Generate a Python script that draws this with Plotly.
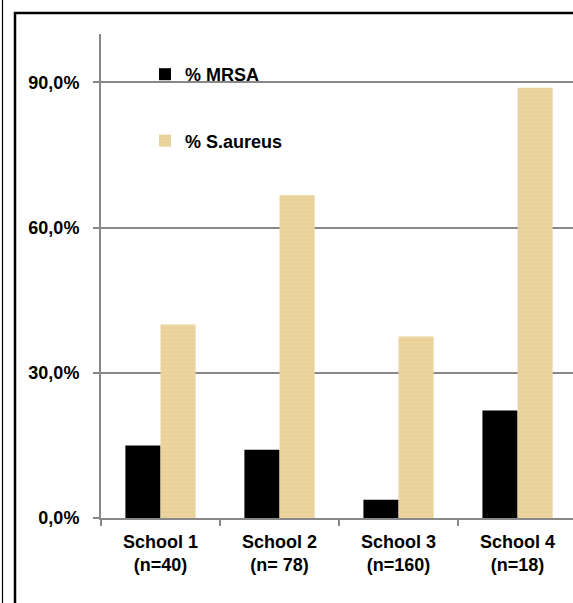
import plotly.graph_objects as go

categories = ["School 1<br>(n=40)", "School 2<br>(n= 78)", "School 3<br>(n=160)", "School 4<br>(n=18)"]
mrsa = [15.0, 14.1, 3.75, 22.2]
saureus = [40.0, 66.7, 37.5, 88.9]
y_ticks = [0, 30, 60, 90]
y_ticktext = [f"{v:.1f}".replace(".", ",") + "%" for v in y_ticks]

W, H = 573, 603
L, R, T, B = 101, 0, 34, 85
pw = W - L - R
ph = H - T - B

def px_x(px):
    return (px - L) / pw

def px_y(py):
    return (H - B - py) / ph

FAM = "Liberation Sans, Arial, sans-serif"

fig = go.Figure()
fig.add_trace(go.Bar(
    x=categories, y=mrsa, name="% MRSA",
    marker=dict(color="#000000", line=dict(width=0)),
    legendgroup="a",
))
fig.add_trace(go.Bar(
    x=categories, y=saureus, name="% S.aureus",
    marker=dict(color="#E9D199", line=dict(width=0),
                pattern=dict(shape="-", size=4, solidity=0.25, fgcolor="#DBBF82", bgcolor="#ECD5A0")),
    legendgroup="b",
))

fig.update_layout(
    width=W, height=H,
    margin=dict(l=L, r=R, t=T, b=B),
    paper_bgcolor="white", plot_bgcolor="white",
    barmode="group", bargap=0.41, bargroupgap=0,
    showlegend=True,
    legend=dict(x=px_x(145), y=px_y(56), xanchor="left", yanchor="top",
                font=dict(family=FAM, size=18, color="#000000", weight="bold"),
                tracegroupgap=40, bgcolor="rgba(0,0,0,0)", itemwidth=30),
    xaxis=dict(
        range=[-0.5, 3.466], autorange=False,
        showline=True, linecolor="#888888", linewidth=2,
        ticks="outside", tickson="boundaries", ticklen=6, tickcolor="#888888", tickwidth=2,
        showgrid=False,
        tickfont=dict(family=FAM, size=18, color="#000000", weight="bold"),
        ticklabelstandoff=6,
    ),
    yaxis=dict(
        range=[0, 100], autorange=False,
        tickvals=y_ticks, ticktext=y_ticktext,
        showline=True, linecolor="#888888", linewidth=2,
        ticks="outside", ticklen=6, tickcolor="#888888", tickwidth=2,
        showgrid=True, gridcolor="#888888", gridwidth=2,
        zeroline=False,
        tickfont=dict(family=FAM, size=18, color="#000000", weight="bold"),
        ticklabelstandoff=10,
    ),
    shapes=[
        dict(type="rect", xref="paper", yref="paper",
             x0=px_x(15), x1=px_x(620), y0=px_y(700), y1=px_y(13),
             line=dict(color="black", width=2.5), fillcolor="rgba(0,0,0,0)", layer="below"),
        dict(type="line", xref="paper", yref="paper",
             x0=px_x(2.5), x1=px_x(2.5), y0=px_y(700), y1=px_y(-10),
             line=dict(color="black", width=1.2)),
    ],
)

fig.write_html("out.html")
